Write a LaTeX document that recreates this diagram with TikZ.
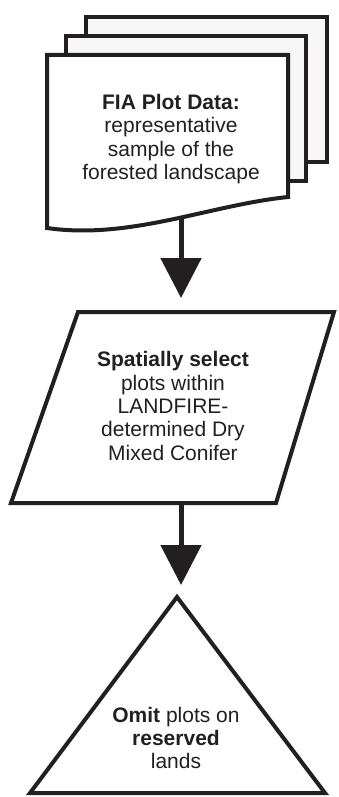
\documentclass[tikz,border=0pt]{standalone}
\usepackage{fontspec}
\setmainfont{Liberation Sans}
\usepackage{xcolor}
\definecolor{inkdark}{HTML}{231F20}
\definecolor{pagegray}{HTML}{F7F7F7}
\usepackage{tikz}
\usetikzlibrary{arrows.meta, positioning}
\tikzset{
  docpage/.style ={draw=inkdark, line width=4pt, fill=pagegray},
  docfront/.style={draw=inkdark, line width=4pt, fill=white},
  flowshape/.style={draw=inkdark, line width=4pt, fill=white},
  ftxt/.style ={align=center, text=inkdark, inner sep=0pt, font=\fontsize{21}{23.3}\selectfont},
  farr/.style ={-{Triangle[length=40pt, width=40pt]}, line width=5pt, color=inkdark},
}

\begin{document}
\begin{tikzpicture}[x=1pt, y=-1pt]
  \useasboundingbox (0,0) rectangle (339,797);
  % stacked data pages
  \draw[docpage] (86,17) rectangle (327,162);
  \draw[docpage] (66,36) rectangle (306,181);
  \draw[docfront] (47,55) -- (288,55) -- (288,197) .. controls (210,205) and (130,240) .. (47,228) -- cycle;
  \node[ftxt] (plotdata) at (171,139) {\textbf{FIA Plot Data:}\\representative\\sample of the\\forested landscape};
  \coordinate (dataout) at (181,217);
  % selection step
  \draw[flowshape] (78,312) -- (334,312) -- (276,503) -- (11,503) -- cycle;
  \node[ftxt] (select) at (173,406) {\textbf{Spatially select}\\plots within\\LANDFIRE-\\determined Dry\\Mixed Conifer};
  \coordinate (selin) at (181,298);
  \coordinate (selout) at (181,503);
  % omit step
  \draw[flowshape] (177,597) -- (325,793) -- (30,793) -- cycle;
  \node[ftxt] (omit) at (176,738) {\textbf{Omit} plots on\\\textbf{reserved}\\lands};
  \coordinate (omitin) at (181,585);
  \draw[farr] (dataout) -- (selin);
  \draw[farr] (selout) -- (omitin);
\end{tikzpicture}
\end{document}
